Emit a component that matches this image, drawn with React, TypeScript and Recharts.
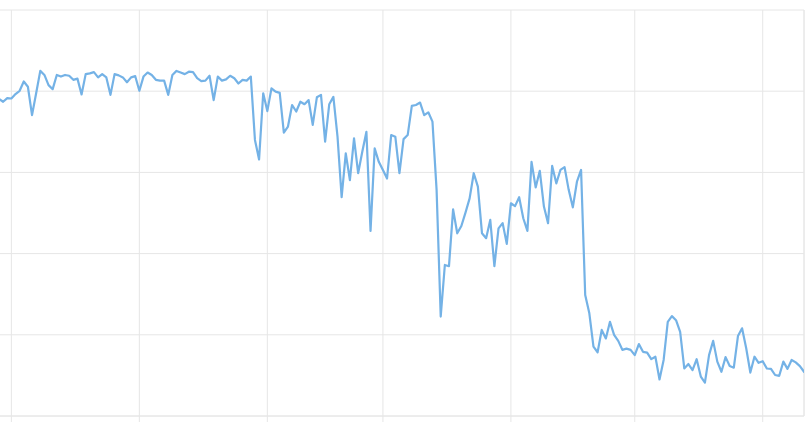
import React from 'react';
import { LineChart, Line, XAxis, YAxis, CartesianGrid, ReferenceLine } from 'recharts';

// Day offsets relative to the first month gridline (1st of month = 0)
const firstDay = -3;
const monthStartDays = [0, 31, 62, 90, 121, 151, 182];
const yTicks = [0, 20, 40, 60, 80, 100];

const values: number[] = [
  78.1, 77.4, 78.3,
  78.2, 79.3, 80.1, 82.4, 81.1, 74.1, 79.5, 85.0, 84.0, 81.5,
  80.5, 84.0, 83.6, 84.0, 83.8, 82.8, 83.1, 79.2, 84.2, 84.4,
  84.7, 83.4, 84.2, 83.4, 79.1, 84.2, 83.9, 83.4, 82.2, 83.4,
  83.7, 80.1, 83.6, 84.6, 84.0, 82.8, 82.6, 82.6, 79.1, 84.0,
  85.0, 84.6, 84.2, 84.8, 84.7, 83.2, 82.5, 82.6, 83.8, 77.8,
  83.6, 82.6, 82.9, 83.8, 83.2, 81.9, 82.8, 82.6, 83.6, 68.0,
  63.2, 79.5, 75.1, 80.7, 79.9, 79.6, 69.8, 71.3, 76.6, 75.0,
  77.4, 76.8, 77.8, 71.7, 78.5, 79.1, 67.6, 76.8, 78.6, 68.8,
  53.9, 64.7, 58.1, 68.4, 59.8, 65.1, 70.0, 45.6, 65.9, 62.6,
  60.6, 58.5, 69.2, 68.8, 59.8, 68.2, 69.2, 76.4, 76.6, 77.2,
  74.1, 74.8, 72.5, 55.7, 24.5, 37.2, 36.9, 50.9, 45.0, 46.8,
  50.1, 53.6, 59.8, 56.5, 45.0, 43.8, 48.3, 36.9, 46.2, 47.5,
  42.4, 52.4, 51.7, 53.9, 48.7, 45.6, 62.6, 56.3, 60.4, 51.6,
  47.5, 61.6, 57.3, 60.6, 61.3, 55.7, 51.4, 57.7, 60.6, 29.8,
  25.3, 17.1, 15.7, 21.2, 19.1, 23.2, 20.0, 18.5, 16.3, 16.6,
  16.3, 15.0, 17.7, 15.8, 15.6, 14.0, 14.6, 9.0, 13.8, 23.2,
  24.6, 23.6, 20.7, 11.7, 12.8, 11.3, 14.0, 9.7, 8.2, 15.0,
  18.5, 13.4, 10.9, 14.5, 12.3, 11.9, 19.7, 21.6, 16.7, 10.7,
  14.6, 13.1, 13.5, 11.7, 11.6, 10.1, 9.9, 13.4, 11.6, 13.8,
  13.2, 12.3, 10.9,
];

const data = values.map((v, i) => ({ day: firstDay + i, value: v }));
const lastDay = firstDay + values.length - 1;

const GRID = '#e6e6e6';

const EmptyTick = () => <g />;

export default function App() {
  return (
    <div style={{ position: 'absolute', left: -1, top: 0 }}>
      <LineChart
        width={806}
        height={425}
        data={data}
        margin={{ top: 10, right: 1, bottom: 0, left: 0 }}
      >
        <CartesianGrid stroke={GRID} strokeWidth={1} />
        <XAxis
          dataKey="day"
          type="number"
          domain={[firstDay, lastDay]}
          ticks={monthStartDays}
          tick={EmptyTick}
          tickSize={6}
          height={9}
          axisLine={{ stroke: GRID }}
          tickLine={{ stroke: GRID }}
          interval={0}
          allowDataOverflow
        />
        <YAxis hide domain={[0, 100]} ticks={yTicks} />
        <ReferenceLine x={lastDay} stroke={GRID} />
        <Line
          type="linear"
          dataKey="value"
          stroke="#74b2e6"
          strokeWidth={2.2}
          dot={false}
          strokeLinejoin="round"
          strokeLinecap="round"
          isAnimationActive={false}
        />
      </LineChart>
    </div>
  );
}
